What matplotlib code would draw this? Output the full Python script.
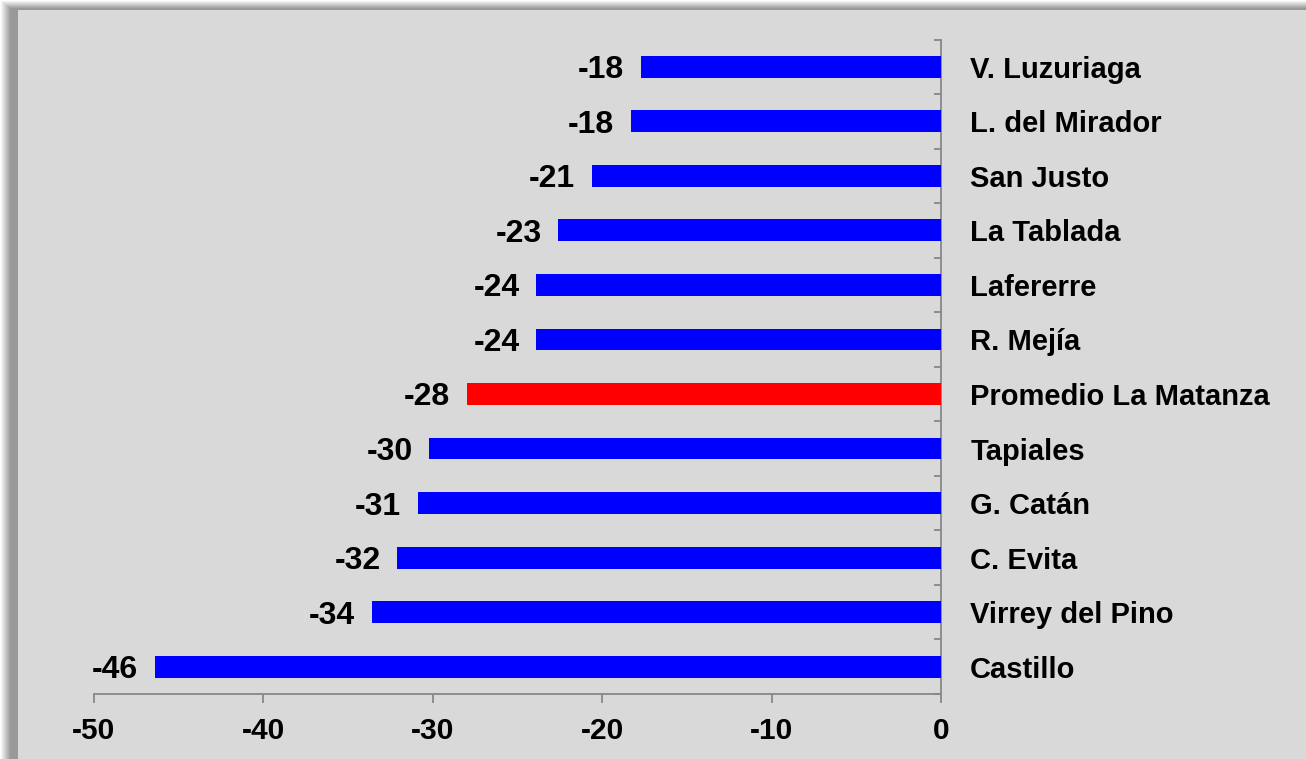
import numpy as np
import matplotlib
matplotlib.use("Agg")
import matplotlib.pyplot as plt

plt.rcParams['font.family'] = ['Liberation Sans', 'DejaVu Sans']
plt.rcParams['font.weight'] = 'bold'

# datos (de arriba hacia abajo)
localidades = ['V. Luzuriaga', 'L. del Mirador', 'San Justo', 'La Tablada',
               'Lafererre', 'R. Mejía', 'Promedio La Matanza', 'Tapiales',
               'G. Catán', 'C. Evita', 'Virrey del Pino', 'Castillo']
valores = [-17.7, -18.3, -20.6, -22.6, -23.9, -23.9, -28.0, -30.2,
           -30.9, -32.1, -33.6, -46.4]
colores = ['#0000ff'] * 6 + ['#ff0000'] + ['#0000ff'] * 5
xticks = [-50, -40, -30, -20, -10, 0]

W, H = 1306, 759
fig = plt.figure(figsize=(W / 100, H / 100), dpi=100, facecolor='white')

# fondo gris con sombra a la izquierda y arriba
panel = 217 / 255
img = np.full((H, W), panel)
xs = np.arange(W)
ys = np.arange(H)
dl = 18 - xs  # distancia al borde izquierdo del panel
sl = 0.6 + 0.4 * np.clip((dl - 8) / 10, 0, 1)
dt = 10 - ys
st = 0.6 + 0.4 * np.clip((dt - 2) / 8, 0, 1)
img[:, :18] = sl[None, :18]
img[:10, 18:] = st[:10, None]
img[:10, :18] = np.maximum(sl[None, :18], st[:10, None])
rgb = np.dstack([img, img, img])
fig.figimage(rgb, xo=0, yo=0, zorder=-5, origin='upper')

ax = fig.add_axes([94 / W, 1 - 694 / H, (941 - 94) / W, (694 - 39.5) / H])
ax.set_zorder(2)
ax.set_facecolor('none')

y = np.arange(len(localidades))
ax.barh(y, valores, height=0.4, color=colores, zorder=3)
for yi, v in zip(y, valores):
    ax.annotate(f"{v:.0f}", (v, yi), xytext=(-12, -2.5),
                textcoords='offset points', ha='right', va='center',
                fontsize=23, fontweight='bold', color='black')

ax.set_xlim(-50, 0)
ax.set_ylim(len(localidades) - 0.5, -0.5)

for s in ['top', 'left']:
    ax.spines[s].set_visible(False)
for s in ['bottom', 'right']:
    ax.spines[s].set_color('#888888')
    ax.spines[s].set_linewidth(1.3)

ax.set_xticks(xticks)
ax.set_xticklabels([str(t) for t in xticks], fontsize=21.5, fontweight='bold')
ax.tick_params(axis='x', direction='out', length=6.5, width=1.3,
               color='#888888', pad=10)

ax.yaxis.set_ticks_position('right')
ax.set_yticks(y)
ax.set_yticklabels(localidades, fontsize=21, fontweight='bold')
ax.set_yticks(np.arange(len(localidades) + 1) - 0.5, minor=True)
ax.tick_params(axis='y', which='major', length=0, pad=21)
ax.tick_params(axis='y', which='minor', direction='in', length=5,
               width=1.3, color='#888888')

fig.savefig('out.png', dpi=100, facecolor='white')
